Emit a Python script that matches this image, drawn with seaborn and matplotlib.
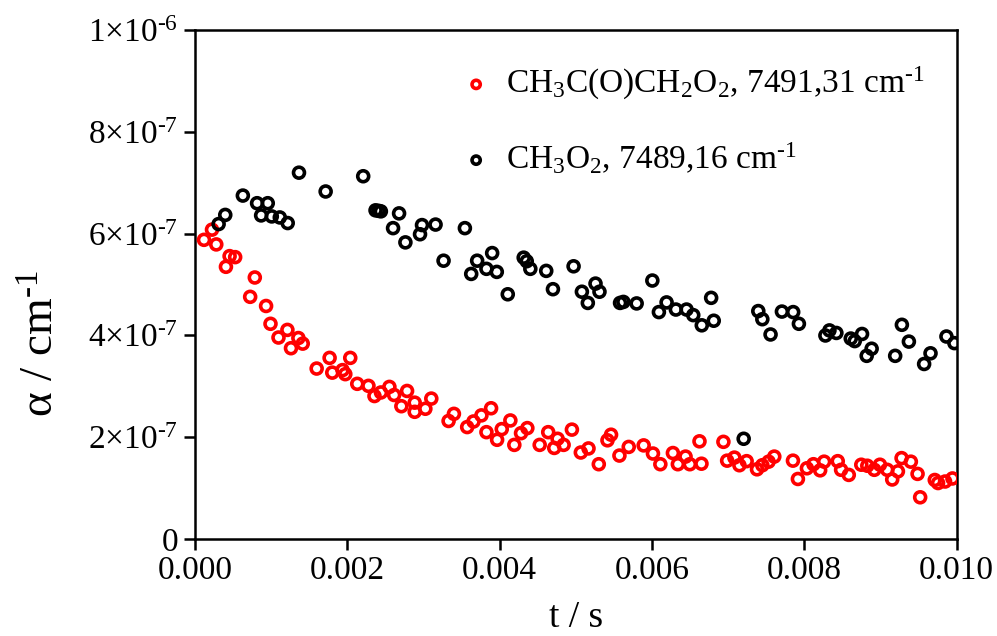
import numpy as np
import pandas as pd
import matplotlib
matplotlib.use("Agg")
import matplotlib.pyplot as plt
import seaborn as sns

# time in ms, absorption coefficient in units of 1e-7 cm^-1
t_ch3o2 = [0.310, 0.397, 0.628, 0.815, 0.955, 0.868, 1.008, 1.113, 1.217, 1.365,
           1.715, 2.208, 2.37, 2.41, 2.44, 2.60, 2.679, 2.762, 2.980, 2.954,
           3.158, 3.543, 3.263, 3.704, 3.901, 3.626, 3.826, 3.962, 4.106, 4.315,
           4.355, 4.402, 4.611, 4.970, 4.699, 5.079, 5.157, 5.258, 5.310, 5.580,
           5.624, 5.798, 6.004, 6.090, 6.191, 6.313, 6.453, 6.541, 6.653, 6.776,
           6.810, 7.203, 7.395, 7.448, 7.556, 7.705, 7.853, 7.928, 8.276, 8.329,
           8.420, 8.609, 8.661, 8.757, 8.883, 8.818, 9.280, 9.372, 9.192, 9.656,
           9.572, 9.865, 9.970]
a_ch3o2 = [6.19, 6.37, 6.75, 6.60, 6.60, 6.36, 6.34, 6.32, 6.21, 7.20,
           6.83, 7.13, 6.46, 6.45, 6.44, 6.11, 6.40, 5.83, 6.17, 5.99,
           6.18, 6.11, 5.47, 5.47, 5.62, 5.21, 5.31, 5.25, 4.81, 5.53,
           5.46, 5.31, 5.27, 5.36, 4.91, 4.86, 4.64, 5.02, 4.86, 4.64,
           4.66, 4.63, 5.08, 4.46, 4.65, 4.51, 4.51, 4.40, 4.20, 4.74,
           4.29, 1.97, 4.48, 4.32, 4.02, 4.47, 4.46, 4.23, 4.00, 4.10,
           4.05, 3.94, 3.89, 4.03, 3.74, 3.60, 4.21, 3.88, 3.60, 3.65,
           3.44, 3.98, 3.85]

t_acetonyl = [0.118, 0.223, 0.279, 0.406, 0.454, 0.527, 0.724, 0.785, 0.933, 0.991,
              1.213, 1.096, 1.357, 1.414, 1.260, 1.597, 1.767, 1.802, 1.937, 1.973,
              2.038, 2.130, 2.277, 2.356, 2.441, 2.552, 2.614, 2.709, 2.784, 2.884,
              2.884, 3.024, 3.102, 3.329, 3.399, 3.573, 3.656, 3.760, 3.887, 3.826,
              3.966, 4.027, 4.140, 4.192, 4.280, 4.363, 4.525, 4.637, 4.760, 4.716,
              4.839, 4.948, 5.065, 5.166, 5.301, 5.415, 5.462, 5.572, 5.694, 5.890,
              6.012, 6.109, 6.274, 6.339, 6.440, 6.496, 6.649, 6.623, 6.937, 6.986,
              7.081, 7.147, 7.242, 7.378, 7.448, 7.530, 7.605, 7.850, 7.915, 8.033,
              8.119, 8.207, 8.259, 8.438, 8.482, 8.583, 8.747, 8.826, 8.918, 8.992,
              9.088, 9.153, 9.228, 9.276, 9.398, 9.486, 9.520, 9.712, 9.755, 9.847,
              9.944]
a_acetonyl = [5.88, 6.08, 5.79, 5.35, 5.56, 5.54, 4.76, 5.14, 4.58, 4.23,
              4.11, 3.96, 3.95, 3.84, 3.75, 3.35, 3.56, 3.27, 3.32, 3.24,
              3.56, 3.05, 3.01, 2.81, 2.88, 2.99, 2.83, 2.61, 2.91, 2.68,
              2.50, 2.56, 2.76, 2.32, 2.46, 2.20, 2.31, 2.43, 2.57, 2.10,
              1.95, 2.16, 2.33, 1.85, 2.08, 2.18, 1.85, 2.10, 1.97, 1.79,
              1.85, 2.15, 1.70, 1.78, 1.47, 1.94, 2.05, 1.64, 1.81, 1.84,
              1.68, 1.47, 1.69, 1.47, 1.62, 1.47, 1.48, 1.92, 1.91, 1.54,
              1.60, 1.45, 1.53, 1.37, 1.45, 1.52, 1.62, 1.54, 1.18, 1.39,
              1.47, 1.35, 1.52, 1.53, 1.36, 1.26, 1.46, 1.44, 1.36, 1.46,
              1.36, 1.17, 1.33, 1.59, 1.52, 1.28, 0.82, 1.16, 1.10, 1.13,
              1.19]

label_acetonyl = r'CH$_3$C(O)CH$_2$O$_2$, 7491,31 cm$^{\text{-}1}$'
label_ch3o2 = r'CH$_3$O$_2$, 7489,16 cm$^{\text{-}1}$'

x_ticks = [0.000, 0.002, 0.004, 0.006, 0.008, 0.010]
x_ticklabels = ['0.000', '0.002', '0.004', '0.006', '0.008', '0.010']
y_ticks = [0, 2e-7, 4e-7, 6e-7, 8e-7, 1e-6]
y_ticklabels = ['0', r'2$\times$10$^{\text{-}7}$', r'4$\times$10$^{\text{-}7}$',
                r'6$\times$10$^{\text{-}7}$', r'8$\times$10$^{\text{-}7}$',
                r'1$\times$10$^{\text{-}6}$']

df = pd.concat([
    pd.DataFrame({'t': np.array(t_acetonyl) * 1e-3, 'alpha': np.array(a_acetonyl) * 1e-7,
                  'species': label_acetonyl}),
    pd.DataFrame({'t': np.array(t_ch3o2) * 1e-3, 'alpha': np.array(a_ch3o2) * 1e-7,
                  'species': label_ch3o2}),
])

sns.set_style("ticks")
plt.rcParams['font.family'] = ['Liberation Serif', 'DejaVu Serif']
plt.rcParams['mathtext.fontset'] = 'custom'
plt.rcParams['mathtext.rm'] = 'Liberation Serif'
plt.rcParams['mathtext.it'] = 'Liberation Serif:italic'
plt.rcParams['mathtext.bf'] = 'Liberation Serif:bold'
plt.rcParams['text.color'] = 'black'
plt.rcParams['axes.labelcolor'] = 'black'
plt.rcParams['xtick.color'] = 'black'
plt.rcParams['ytick.color'] = 'black'
plt.rcParams['axes.edgecolor'] = 'black'

fig = plt.figure(figsize=(9.97, 6.36), dpi=100)
ax = fig.add_axes([0.1956, 0.1525, 0.764, 0.800])

colors = {label_acetonyl: '#ff0000', label_ch3o2: '#000000'}
for name in [label_acetonyl, label_ch3o2]:
    sub = df[df['species'] == name]
    sns.scatterplot(data=sub, x='t', y='alpha', ax=ax, marker='o', s=62,
                    facecolor='none', edgecolor=colors[name], linewidth=2.6,
                    label=name, zorder=3)

ax.set_xlim(0, 0.010)
ax.set_ylim(0, 1e-6)
ax.set_xticks(x_ticks)
ax.set_xticklabels(x_ticklabels)
ax.set_yticks(y_ticks)
ax.set_yticklabels(y_ticklabels)
ax.tick_params(direction='out', length=8, width=1.8, labelsize=24, pad=4)
for sp in ax.spines.values():
    sp.set_linewidth(1.8)
    sp.set_visible(True)

ax.set_xlabel('t / s', fontsize=27, labelpad=10)
ax.set_ylabel(r'α / cm$^{\text{-}1}$', fontsize=34)
ax.yaxis.set_label_coords(-0.173, 0.385)

leg = ax.legend(loc='upper left', bbox_to_anchor=(0.31, 0.99), frameon=False,
                fontsize=24, labelspacing=1.15, handlelength=0.9,
                handletextpad=0.45, markerscale=0.75)

fig.savefig('out.png', dpi=100)
